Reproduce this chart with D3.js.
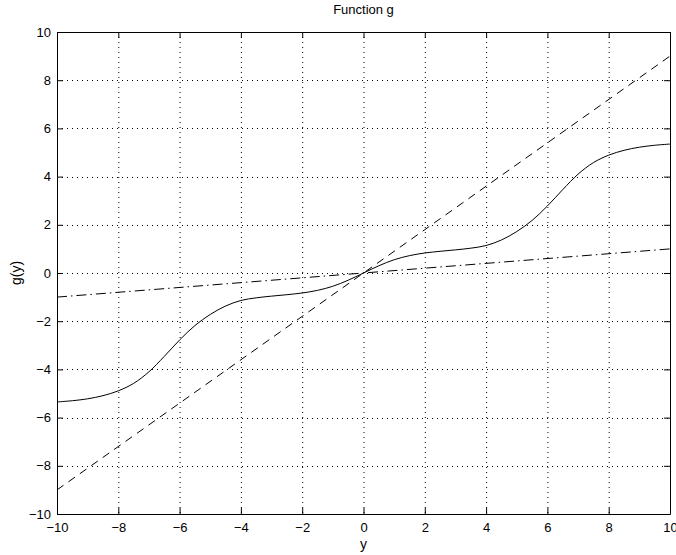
<!DOCTYPE html>
<html><head><meta charset="utf-8">
<script src="https://cdn.jsdelivr.net/npm/d3@7"></script>
<style>
body{margin:0;background:#fff;}
text{font-family:"Liberation Sans",Arial,Helvetica,sans-serif;}
</style></head>
<body><svg id="c" width="676" height="555"></svg>
<script>
const xTicks = [-10,-8,-6,-4,-2,0,2,4,6,8,10];
const yTicks = [-10,-8,-6,-4,-2,0,2,4,6,8,10];
// solid curve g(y)
const gX = [-10,-9.5,-9,-8.5,-8,-7.5,-7,-6.5,-6,-5.5,-5,-4.5,-4,-3.5,-3,-2.5,-2,-1.5,-1,-0.5,0,0.5,1,1.5,2,2.5,3,3.5,4,4.5,5,5.5,6,6.5,7,7.5,8,8.5,9,9.5,10];
const gV = [-5.35,-5.30,-5.22,-5.09,-4.89,-4.58,-4.10,-3.46,-2.78,-2.18,-1.72,-1.37,-1.14,-1.03,-0.96,-0.9,-0.83,-0.72,-0.55,-0.3,0,0.3,0.55,0.72,0.83,0.9,0.96,1.03,1.14,1.37,1.72,2.18,2.78,3.46,4.10,4.58,4.89,5.09,5.22,5.30,5.35];
// dashed line
const dashX = [-10,10];
const dashV = [-9,9];
// dash-dot line
const ddX = [-10,10];
const ddV = [-1,1];

const svg = d3.select("#c");
const L=57,R=670,T=32,B=514;
const x = d3.scaleLinear().domain([-10,10]).range([L,R]);
const y = d3.scaleLinear().domain([-10,10]).range([B,T]);

// grid
const grid = svg.append("g");
grid.selectAll(".gx").data(xTicks.slice(1,-1)).enter().append("line")
  .attr("x1",d=>x(d)+0.5).attr("x2",d=>x(d)+0.5).attr("y1",T).attr("y2",B)
  .attr("stroke","#000").attr("stroke-width",1).attr("stroke-dasharray","1,4");
grid.selectAll(".gy").data(yTicks.slice(1,-1)).enter().append("line")
  .attr("y1",d=>Math.round(y(d))+0.5).attr("y2",d=>Math.round(y(d))+0.5).attr("x1",L).attr("x2",R)
  .attr("stroke","#000").attr("stroke-width",1).attr("stroke-dasharray","1,4");

// axes
const fs = 13;
const fmt = d=>String(d).replace("-","\u2212");
const xb = svg.append("g").attr("transform",`translate(0,${B})`)
  .call(d3.axisBottom(x).tickValues(xTicks).tickSizeInner(-6).tickSizeOuter(0).tickPadding(6).tickFormat(fmt));
const xt = svg.append("g").attr("transform",`translate(0,${T})`)
  .call(d3.axisTop(x).tickValues(xTicks).tickSizeInner(-6).tickSizeOuter(0).tickFormat(""));
const yl = svg.append("g").attr("transform",`translate(${L},0)`)
  .call(d3.axisLeft(y).tickValues(yTicks).tickSizeInner(-6).tickSizeOuter(0).tickPadding(6).tickFormat(fmt));
const yr = svg.append("g").attr("transform",`translate(${R},0)`)
  .call(d3.axisRight(y).tickValues(yTicks).tickSizeInner(-6).tickSizeOuter(0).tickFormat(""));
[xb,xt,yl,yr].forEach(g=>{
  g.selectAll("path").attr("stroke","#000");
  g.selectAll("line").attr("stroke","#000");
  g.selectAll("text").attr("font-size",fs).attr("fill","#000").style("font-family","Liberation Sans, Arial, sans-serif");
});
xb.selectAll("text").attr("dy","0.9em");

// curves
svg.append("path").datum(gX.map((v,i)=>[v,gV[i]]))
  .attr("d",d3.line().x(d=>x(d[0])).y(d=>y(d[1])).curve(d3.curveCatmullRom.alpha(0.5)))
  .attr("fill","none").attr("stroke","#000").attr("stroke-width",1);
svg.append("path").datum(dashX.map((v,i)=>[v,dashV[i]]))
  .attr("d",d3.line().x(d=>x(d[0])).y(d=>y(d[1]))).attr("fill","none").attr("stroke","#000").attr("stroke-width",1).attr("stroke-dasharray","8,6");
svg.append("path").datum(ddX.map((v,i)=>[v,ddV[i]]))
  .attr("d",d3.line().x(d=>x(d[0])).y(d=>y(d[1]))).attr("fill","none").attr("stroke","#000").attr("stroke-width",1).attr("stroke-dasharray","10,4,1.5,4");

// labels
svg.append("text").attr("x",(L+R)/2).attr("y",14).attr("text-anchor","middle").attr("font-size",13).text("Function g");
svg.append("text").attr("x",(L+R)/2).attr("y",549).attr("text-anchor","middle").attr("font-size",14).text("y");
svg.append("text").attr("transform",`translate(21,${(T+B)/2}) rotate(-90)`).attr("text-anchor","middle").attr("font-size",14).text("g(y)");
</script></body></html>
